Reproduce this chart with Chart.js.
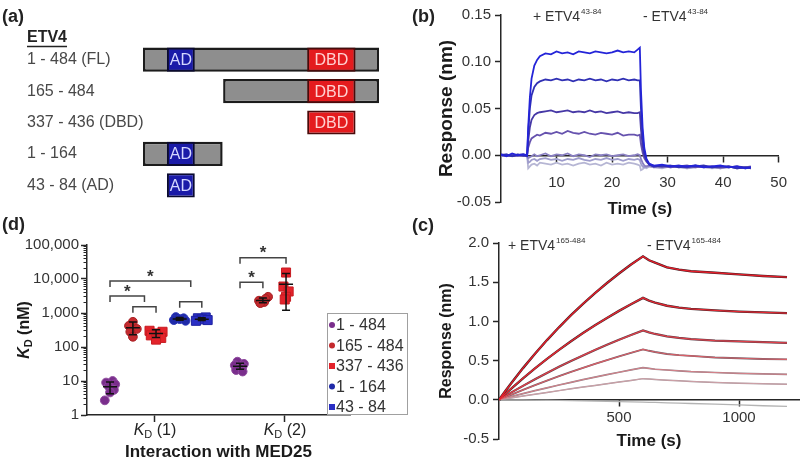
<!DOCTYPE html>
<html><head><meta charset="utf-8">
<script src="https://cdn.jsdelivr.net/npm/chart.js@4.4.1/dist/chart.umd.min.js"></script>
<style>
html,body{margin:0;padding:0;background:#fff;}
#wrap{position:relative;width:800px;height:466px;overflow:hidden;background:#fff;font-family:"Liberation Sans",Arial,sans-serif;}
canvas{position:absolute;}
.pl{position:absolute;font-weight:bold;font-size:18px;color:#222;line-height:22px;}
</style></head><body>
<div id="wrap">
<canvas id="cA" width="400" height="228" style="left:0px;top:0px"></canvas>
<canvas id="cB" width="400" height="230" style="left:400px;top:0px"></canvas>
<canvas id="cD" width="412" height="236" style="left:0px;top:230px"></canvas>
<canvas id="cC" width="400" height="236" style="left:400px;top:230px"></canvas>
<div class="pl" style="left:2px;top:5px">(a)</div>
<div class="pl" style="left:412px;top:5px">(b)</div>
<div class="pl" style="left:412px;top:214px">(c)</div>
<div class="pl" style="left:2px;top:213px">(d)</div>
</div>
<script>
// ---------------- DATA ----------------
// (a) domain map
const constructLabels = ['1 - 484 (FL)', '165 - 484', '337 - 436 (DBD)', '1 - 164', '43 - 84 (AD)'];
const constructRanges = [[1,484],[165,484],null,[1,164],null];
const adRanges = [[50,107],null,null,[50,107],[50,107]];
const dbdRanges = [[337,436],[337,436],[337,436],null,null];

// (b) ETV4 43-84 sensorgram
const tB = [0,1,2,3,4,4.7,4.9,5.2,5.5,6,6.5,7,8,9,10,11,12,13,14,15,16,17,18,19,20,21,22,23,24,24.6,25,25.2,25.5,25.8,26.2,26.7,27.5,29,30.5,32,33.5,35,36.5,38,39.5,41,42.5,44,45];
const b1 = [0.001,-0.001,0.002,0.000,0.001,0.000, 0.030,0.062,0.082,0.096,0.102,0.106, 0.109,0.108,0.111,0.109,0.110,0.108,0.111,0.110,0.109,0.111,0.110,0.109,0.110,0.112,0.110,0.111,0.110,0.113, 0.115, 0.070,0.030,0.008,-0.004,-0.009, -0.011,-0.010,-0.012,-0.011,-0.012,-0.011,-0.013,-0.012,-0.011,-0.013,-0.012,-0.014,-0.013];
const b2 = [0.000,0.001,-0.001,0.001,0.000,-0.001, 0.025,0.050,0.064,0.073,0.077,0.079, 0.081,0.080,0.082,0.080,0.081,0.079,0.081,0.080,0.082,0.080,0.081,0.079,0.081,0.080,0.082,0.080,0.081,0.080, 0.080, 0.050,0.020,0.004,-0.005,-0.010, -0.012,-0.011,-0.011,-0.013,-0.012,-0.012,-0.011,-0.013,-0.012,-0.012,-0.014,-0.013,-0.013];
const b3 = [0.001,0.000,-0.001,0.000,0.001,0.000, 0.015,0.030,0.038,0.043,0.045,0.046, 0.047,0.048,0.046,0.047,0.048,0.046,0.047,0.046,0.048,0.046,0.047,0.045,0.046,0.047,0.045,0.046,0.045,0.045, 0.046, 0.028,0.010,0.000,-0.006,-0.010, -0.011,-0.012,-0.011,-0.012,-0.013,-0.011,-0.012,-0.013,-0.012,-0.013,-0.012,-0.013,-0.014];
const b4 = [0.000,-0.001,0.001,0.000,-0.001,0.000, 0.008,0.014,0.018,0.020,0.022,0.021, 0.024,0.023,0.025,0.023,0.026,0.024,0.023,0.025,0.023,0.022,0.024,0.023,0.022,0.024,0.021,0.022,0.022,0.021, 0.022, 0.012,0.003,-0.003,-0.007,-0.010, -0.012,-0.011,-0.013,-0.012,-0.011,-0.013,-0.012,-0.012,-0.013,-0.012,-0.014,-0.013,-0.012];
const b5 = [0.000,0.001,-0.001,0.000,0.001,-0.001, -0.003,-0.002,-0.001,0.001,-0.001,0.000, 0.002,-0.001,0.001,0.000,0.002,-0.001,0.001,0.000,-0.002,0.001,0.000,0.001,-0.001,0.000,0.001,-0.001,0.000,0.001, 0.000, -0.004,-0.008,-0.011,-0.012,-0.011, -0.012,-0.013,-0.012,-0.011,-0.013,-0.012,-0.013,-0.012,-0.014,-0.012,-0.013,-0.014,-0.013];
const b6 = [-0.001,0.000,0.001,-0.001,0.000,0.000, -0.008,-0.007,-0.005,-0.004,-0.006,-0.004, -0.003,-0.005,-0.004,-0.006,-0.004,-0.005,-0.003,-0.005,-0.006,-0.004,-0.005,-0.003,-0.005,-0.004,-0.006,-0.004,-0.005,-0.004, -0.005, -0.009,-0.012,-0.013,-0.012,-0.012, -0.013,-0.012,-0.013,-0.012,-0.014,-0.013,-0.012,-0.013,-0.014,-0.013,-0.012,-0.014,-0.013];
const b7 = [0.000,-0.001,0.000,0.001,-0.001,0.000, -0.014,-0.012,-0.010,-0.009,-0.011,-0.008, -0.009,-0.010,-0.008,-0.010,-0.009,-0.011,-0.009,-0.008,-0.010,-0.009,-0.011,-0.008,-0.010,-0.009,-0.010,-0.008,-0.009,-0.010, -0.011, -0.016,-0.015,-0.013,-0.014,-0.012, -0.013,-0.014,-0.012,-0.013,-0.014,-0.012,-0.013,-0.014,-0.013,-0.012,-0.014,-0.013,-0.014];
const bXTicks = [10,20,30,40,50];
const bYTicks = [-0.05,0,0.05,0.10,0.15];

// (c) ETV4 165-484 sensorgram (data + fit)
const tC = [0,25,50,100,150,200,250,300,350,400,450,500,550,600,625,650,700,750,800,900,1000,1100,1200];
const c1 = [0,0.106,0.207,0.404,0.588,0.762,0.925,1.079,1.224,1.361,1.490,1.611,1.725,1.830,1.780,1.750,1.690,1.660,1.640,1.620,1.600,1.580,1.565];
const c2 = [0,0.071,0.140,0.274,0.401,0.522,0.637,0.747,0.851,0.950,1.044,1.134,1.219,1.300,1.265,1.240,1.200,1.175,1.160,1.140,1.125,1.115,1.105];
const c3 = [0,0.045,0.091,0.178,0.262,0.343,0.421,0.495,0.566,0.636,0.702,0.765,0.826,0.885,0.860,0.840,0.810,0.790,0.775,0.755,0.745,0.735,0.725];
const c4 = [0,0.032,0.064,0.126,0.187,0.245,0.301,0.355,0.407,0.458,0.506,0.553,0.599,0.643,0.625,0.610,0.585,0.570,0.560,0.540,0.530,0.520,0.515];
const c5 = [0,0.020,0.040,0.079,0.117,0.153,0.189,0.223,0.257,0.289,0.321,0.351,0.381,0.410,0.400,0.390,0.380,0.370,0.360,0.348,0.338,0.330,0.325];
const c6 = [0,0.012,0.024,0.048,0.071,0.094,0.117,0.140,0.162,0.183,0.205,0.226,0.247,0.270,0.265,0.260,0.250,0.242,0.235,0.222,0.212,0.205,0.198];
const c7 = [0,0,-0.001,-0.002,-0.004,-0.006,-0.008,-0.010,-0.013,-0.016,-0.020,-0.024,-0.027,-0.030,-0.032,-0.034,-0.038,-0.042,-0.047,-0.056,-0.066,-0.076,-0.085];
const cXTicks = [500,1000];
const cYTicks = [-0.5,0,0.5,1.0,1.5,2.0];

// (d) KD dot plot
const dSeriesLabels = ['1 - 484','165 - 484','337 - 436','1 - 164','43 - 84'];
const kd1Values = [[10,9,8,7,5.5,4.6,2.7],[550,420,340,280,200],[300,280,250,220,185,165],[760,700,660,620,590],[740,700,650,620,590]];
const kd2Values = [[37,32,29,27,24,21,19],[3000,2600,2300,2100,1950],[15500,6000,4300,3000,2500],[],[]];
const kd1Jitter = [[0.02,-0.03,0.04,-0.01,0.03,0,-0.04],[0,-0.03,0.03,-0.02,0],[-0.05,0.05,0,-0.04,0.04,0],[-0.03,0.03,0,-0.045,0.045],[0.03,-0.03,0,0.045,-0.045]];
const kd2Jitter = [[-0.02,0.03,-0.04,0.02,0,-0.03,0.02],[0.04,0.02,-0.03,0.01,-0.02],[0,-0.02,0.02,0,-0.01],[],[]];
const kd1Mean = [6.8,370,250,670,660], kd1Low = [4.2,230,190,610,600], kd1High = [9.4,540,320,740,725];
const kd2Mean = [27,2350,7000,null,null], kd2Low = [22,2000,1200,null,null], kd2High = [33,2750,14500,null,null];
const dGroups = [1,2];
const dGroupNames = ['(1)','(2)'];
const dYTicks = [1,10,100,1000,10000,100000];
const dMinorTicks = [2,3,4,5,6,7,8,9,20,30,40,50,60,70,80,90,200,300,400,500,600,700,800,900,2000,3000,4000,5000,6000,7000,8000,9000,20000,30000,40000,50000,60000,70000,80000,90000];
// significance brackets: group, from series, to series (or midpoint of pair), level (nM), star
const brackets = [
  {g:1, a:0, b:[1,2], y:3160, star:true},
  {g:1, a:1, b:[2], y:1530, star:false},
  {g:1, a:0, b:[3,4], y:8700, star:true},
  {g:1, a:3, b:[4], y:2150, star:false},
  {g:2, a:0, b:[1], y:7980, star:true},
  {g:2, a:0, b:[2], y:42000, star:true}
];

// ---------------- STYLE ----------------
const FONT = '"Liberation Sans", Arial, Helvetica, sans-serif';
Chart.defaults.font.family = FONT;
Chart.defaults.color = '#333';
Chart.defaults.animation = false;
Chart.defaults.events = [];
Chart.defaults.plugins.legend.display = false;
Chart.defaults.plugins.tooltip.enabled = false;
const AX = '#262626';

function drawSup(ctx, x, y, base, sup) {
  ctx.save();
  ctx.fillStyle = '#333'; ctx.textBaseline = 'middle'; ctx.textAlign = 'left';
  ctx.font = '14px ' + FONT;
  ctx.fillText(base, x, y);
  const w = ctx.measureText(base).width;
  ctx.font = '8px ' + FONT;
  ctx.fillText(sup, x + w + 1, y - 5);
  ctx.restore();
}

// ---------------- (a) ----------------
const aPlugin = {
  id: 'aText',
  afterDatasetsDraw(chart) {
    const ctx = chart.ctx;
    ctx.save();
    ctx.textAlign = 'center'; ctx.textBaseline = 'middle'; ctx.font = '16px ' + FONT;
    [[0, '#d4d6ff'], [1, '#ffd2d2']].forEach(([di, col]) => {
      const ds = chart.data.datasets[di];
      chart.getDatasetMeta(di).data.forEach((el, j) => {
        if (!ds.data[j]) return;
        ctx.fillStyle = col;
        ctx.fillText(ds.label, (el.x + el.base) / 2, el.y + 1);
      });
    });
    ctx.textAlign = 'left'; ctx.font = 'bold 16px ' + FONT; ctx.fillStyle = '#222';
    ctx.fillText('ETV4', 27, 38);
    const w = ctx.measureText('ETV4').width;
    ctx.strokeStyle = '#222'; ctx.lineWidth = 1.5;
    ctx.beginPath(); ctx.moveTo(27, 46.5); ctx.lineTo(27 + w, 46.5); ctx.stroke();
    ctx.restore();
  }
};
new Chart(document.getElementById('cA'), {
  type: 'bar',
  data: {
    labels: constructLabels,
    datasets: [
      {label: 'AD', data: adRanges, backgroundColor: '#1a1aa8', borderColor: '#0a0a30', borderWidth: 2, borderSkipped: false, grouped: false, order: 1},
      {label: 'DBD', data: dbdRanges, backgroundColor: '#e41b1e', borderColor: '#4a0a0a', borderWidth: 2, borderSkipped: false, grouped: false, order: 1},
      {label: 'ETV4', data: constructRanges, backgroundColor: '#8e8e8e', borderColor: '#1c1c1c', borderWidth: 2.5, borderSkipped: false, grouped: false, order: 2}
    ]
  },
  options: {
    indexAxis: 'y', responsive: false, devicePixelRatio: 1,
    layout: {padding: {left: 27, right: 21, top: 44, bottom: 27}},
    datasets: {bar: {categoryPercentage: 1, barPercentage: 0.77}},
    scales: {
      x: {type: 'linear', min: 1, max: 484, display: false},
      y: {grid: {display: false}, border: {display: false},
          ticks: {crossAlign: 'far', font: {size: 16}, color: '#484848', padding: 0},
          afterFit: s => { s.width = 116; }}
    }
  },
  plugins: [aPlugin]
});

// ---------------- (b) ----------------
const bCurves = [b1, b2, b3, b4, b5, b6, b7];
const bColors = ['#2424d8', '#3030b4', '#4638a6', '#6652ae', '#8a80c2', '#9e9ccc', '#b6b6d4'];
new Chart(document.getElementById('cB'), {
  type: 'line',
  data: {datasets: bCurves.map((c, i) => ({
    data: tB.map((t, j) => ({x: t, y: c[j]})),
    borderColor: bColors[i], borderWidth: 1.8, pointRadius: 0, tension: 0, fill: false
  }))},
  options: {
    responsive: false, devicePixelRatio: 1,
    layout: {padding: {left: 0, right: 12, top: 15, bottom: 28}},
    scales: {
      x: {type: 'linear', min: 0, max: 50, position: {y: 0},
        afterBuildTicks: s => { s.ticks = bXTicks.map(v => ({value: v})); },
        afterFit: s => { s.height = 0; },
        ticks: {font: {size: 15}, color: '#333', padding: 13, maxRotation: 0, callback: v => String(v)},
        grid: {drawOnChartArea: false, tickLength: 6, tickWidth: 1.5, color: AX},
        border: {color: AX, width: 1.5},
        title: {display: true, text: 'Time (s)', font: {size: 17, weight: 'bold'}, color: '#1a1a1a', padding: {top: 0, bottom: -64}}},
      y: {type: 'linear', min: -0.05, max: 0.15,
        afterBuildTicks: s => { s.ticks = bYTicks.map(v => ({value: v})); },
        afterFit: s => { s.width = 101; },
        ticks: {font: {size: 15}, color: '#333', padding: 4, callback: v => Number(v).toFixed(2)},
        grid: {drawOnChartArea: false, tickLength: 6, tickWidth: 1.5, color: AX},
        border: {color: AX, width: 1.5},
        title: {display: true, text: 'Response (nm)', font: {size: 19, weight: 'bold'}, color: '#1a1a1a', padding: {top: 35, bottom: 0}}}
    }
  },
  plugins: [{id: 'bText', afterDraw(chart) {
    drawSup(chart.ctx, 133, 17, '+ ETV4', '43-84');
    drawSup(chart.ctx, 243, 17, '- ETV4', '43-84');
  }}]
});

// ---------------- (c) ----------------
const cCurves = [c1, c2, c3, c4, c5, c6];
const cDataColors = ['#3a2226', '#3e282c', '#58404a', '#70606a', '#8e8088', '#a4989e'];
const cFitColors = ['#e61e2a', '#e42832', '#e0404a', '#da6068', '#d8828a', '#d4a2a8'];
const cFitWidths = [1.4, 1.4, 1.3, 1.1, 1.0, 0.9];
const cDataWidths = [2.4, 2.4, 2.2, 1.9, 1.7, 1.5];
const cDatasets = [];
cCurves.forEach((c, i) => cDatasets.push({data: tC.map((t, j) => ({x: t, y: c[j]})), borderColor: cFitColors[i], borderWidth: cFitWidths[i], pointRadius: 0, tension: 0, order: 1}));
cCurves.forEach((c, i) => cDatasets.push({data: tC.map((t, j) => ({x: t, y: c[j]})), borderColor: cDataColors[i], borderWidth: cDataWidths[i], pointRadius: 0, tension: 0, order: 2}));
cDatasets.push({data: tC.map((t, j) => ({x: t, y: c7[j]})), borderColor: '#b4b4b4', borderWidth: 1.3, pointRadius: 0, tension: 0, order: 3});
new Chart(document.getElementById('cC'), {
  type: 'line',
  data: {datasets: cDatasets},
  options: {
    responsive: false, devicePixelRatio: 1,
    layout: {padding: {left: 0, right: 1, top: 12, bottom: 27}},
    scales: {
      x: {type: 'linear', min: 0, max: 1250, position: {y: 0},
        afterBuildTicks: s => { s.ticks = cXTicks.map(v => ({value: v})); },
        afterFit: s => { s.height = 0; },
        ticks: {font: {size: 15}, color: '#333', padding: 3.5, maxRotation: 0, callback: v => String(v)},
        grid: {drawOnChartArea: false, tickLength: 6, tickWidth: 1.5, color: AX},
        border: {color: AX, width: 1.5},
        title: {display: true, text: 'Time (s)', font: {size: 17, weight: 'bold'}, color: '#1a1a1a', padding: {top: 0, bottom: -52}}},
      y: {type: 'linear', min: -0.5, max: 2.0,
        afterBuildTicks: s => { s.ticks = cYTicks.map(v => ({value: v})); },
        afterFit: s => { s.width = 99; },
        ticks: {font: {size: 15}, color: '#333', padding: 4, callback: v => Number(v).toFixed(1)},
        grid: {drawOnChartArea: false, tickLength: 6, tickWidth: 1.5, color: AX},
        border: {color: AX, width: 1.5},
        title: {display: true, text: 'Response (nm)', font: {size: 16, weight: 'bold'}, color: '#1a1a1a', padding: {top: 37, bottom: 0}}}
    }
  },
  plugins: [{id: 'cText', afterDraw(chart) {
    drawSup(chart.ctx, 108, 16, '+ ETV4', '165-484');
    drawSup(chart.ctx, 247, 16, '- ETV4', '165-484');
  }}]
});

// ---------------- (d) ----------------
const dOffsets = [-0.346, -0.17, 0.008, 0.19, 0.36];
const dColors = ['#7a2e8c', '#c42a2e', '#e3232b', '#1f2aa8', '#2a2fc4'];
const dBorders = ['#8e4a9e', '#a81e22', '#c81c22', '#2a36b8', '#1e22a0'];
const dStyles = ['circle', 'circle', 'rect', 'circle', 'rect'];
const dDatasets = dSeriesLabels.map((lab, s) => {
  const pts = [];
  kd1Values[s].forEach((v, j) => pts.push({x: dGroups[0] + dOffsets[s] + kd1Jitter[s][j], y: v}));
  kd2Values[s].forEach((v, j) => pts.push({x: dGroups[1] + dOffsets[s] + kd2Jitter[s][j], y: v}));
  return {label: lab, data: pts, backgroundColor: dColors[s], borderColor: dBorders[s], borderWidth: 1,
          pointStyle: dStyles[s], pointRadius: dStyles[s] === 'rect' ? 6.4 : 4.4};
});
const dPlugin = {
  id: 'dExtras',
  afterDatasetsDraw(chart) {
    const ctx = chart.ctx, xs = chart.scales.x, ys = chart.scales.y;
    ctx.save();
    ctx.strokeStyle = '#111'; ctx.lineWidth = 1.5;
    const stats = [[kd1Mean, kd1Low, kd1High], [kd2Mean, kd2Low, kd2High]];
    stats.forEach((st, gi) => {
      st[0].forEach((m, s) => {
        if (m == null) return;
        const x = xs.getPixelForValue(dGroups[gi] + dOffsets[s]);
        const ym = ys.getPixelForValue(m), yl = ys.getPixelForValue(st[1][s]), yh = ys.getPixelForValue(st[2][s]);
        ctx.beginPath();
        ctx.moveTo(x - 7, ym); ctx.lineTo(x + 7, ym);
        ctx.moveTo(x, yl); ctx.lineTo(x, yh);
        ctx.moveTo(x - 4, yl); ctx.lineTo(x + 4, yl);
        ctx.moveTo(x - 4, yh); ctx.lineTo(x + 4, yh);
        ctx.stroke();
      });
    });
    // brackets
    ctx.strokeStyle = '#444'; ctx.lineWidth = 1.5;
    brackets.forEach(b => {
      const x1 = xs.getPixelForValue(b.g + dOffsets[b.a]);
      const x2 = b.b.map(k => xs.getPixelForValue(b.g + dOffsets[k])).reduce((p, q) => p + q, 0) / b.b.length;
      const y = ys.getPixelForValue(b.y);
      ctx.beginPath();
      ctx.moveTo(x1, y + 6); ctx.lineTo(x1, y); ctx.lineTo(x2, y); ctx.lineTo(x2, y + 6);
      ctx.stroke();
      if (b.star) {
        ctx.fillStyle = '#333'; ctx.font = 'bold 17px ' + FONT; ctx.textAlign = 'center'; ctx.textBaseline = 'middle';
        ctx.fillText('*', (x1 + x2) / 2, y - 4);
      }
    });
    ctx.restore();
  },
  afterDraw(chart) {
    const ctx = chart.ctx, xs = chart.scales.x, ca = chart.chartArea;
    ctx.save();
    ctx.fillStyle = '#222'; ctx.textBaseline = 'middle'; ctx.textAlign = 'left';
    // x category labels K_D (1), K_D (2)
    dGroups.forEach((g, i) => {
      ctx.font = 'italic 16px ' + FONT; const wK = ctx.measureText('K').width;
      ctx.font = '11px ' + FONT; const wD = ctx.measureText('D').width;
      ctx.font = '16px ' + FONT; const wR = ctx.measureText(' ' + dGroupNames[i]).width;
      let x = xs.getPixelForValue(g) - (wK + wD + wR) / 2; const y = 201;
      ctx.font = 'italic 16px ' + FONT; ctx.fillText('K', x, y); x += wK;
      ctx.font = '11px ' + FONT; ctx.fillText('D', x, y + 4); x += wD;
      ctx.font = '16px ' + FONT; ctx.fillText(' ' + dGroupNames[i], x, y);
    });
    // y title K_D (nM)
    ctx.translate(25, (ca.top + ca.bottom) / 2); ctx.rotate(-Math.PI / 2);
    ctx.fillStyle = '#1a1a1a';
    ctx.font = 'italic bold 16px ' + FONT; const w1 = ctx.measureText('K').width;
    ctx.font = 'bold 11px ' + FONT; const w2 = ctx.measureText('D').width;
    ctx.font = 'bold 16px ' + FONT; const w3 = ctx.measureText(' (nM)').width;
    let x = -(w1 + w2 + w3) / 2;
    ctx.font = 'italic bold 16px ' + FONT; ctx.fillText('K', x, 0); x += w1;
    ctx.font = 'bold 11px ' + FONT; ctx.fillText('D', x, 4); x += w2;
    ctx.font = 'bold 16px ' + FONT; ctx.fillText(' (nM)', x, 0);
    ctx.setTransform(1, 0, 0, 1, 0, 0);
    // legend box
    ctx.strokeStyle = '#a0a0a0'; ctx.lineWidth = 1;
    ctx.strokeRect(327.5, 83.5, 80, 101);
    chart.data.datasets.forEach((ds, i) => {
      const y = 95 + i * 20.5;
      ctx.fillStyle = ds.backgroundColor;
      if (ds.pointStyle === 'rect') ctx.fillRect(329, y - 3, 6, 6);
      else { ctx.beginPath(); ctx.arc(332, y, 3, 0, Math.PI * 2); ctx.fill(); }
      ctx.fillStyle = '#333'; ctx.font = '16px ' + FONT; ctx.textAlign = 'left'; ctx.textBaseline = 'middle';
      ctx.fillText(ds.label, 336, y + 1);
    });
    ctx.restore();
  }
};
new Chart(document.getElementById('cD'), {
  type: 'scatter',
  data: {datasets: dDatasets},
  options: {
    responsive: false, devicePixelRatio: 1,
    layout: {padding: {left: 0, right: 62, top: 15, bottom: 0}},
    scales: {
      x: {type: 'linear', min: 0.477, max: 2.5, position: 'bottom',
        afterBuildTicks: s => { s.ticks = dGroups.map(v => ({value: v})); },
        afterFit: s => { s.height = 51; },
        ticks: {display: false},
        grid: {drawOnChartArea: false, tickLength: 7, tickWidth: 1.5, color: AX},
        border: {color: AX, width: 1.5},
        title: {display: true, text: 'Interaction with MED25', font: {size: 17, weight: 'bold'}, color: '#1a1a1a', padding: {top: 0, bottom: 3}}},
      y: {type: 'logarithmic', min: 1, max: 100000, position: 'left', weight: 1,
        afterBuildTicks: s => { s.ticks = dYTicks.map(v => ({value: v})); },
        afterFit: s => { s.width = 87; },
        ticks: {font: {size: 15}, color: '#333', padding: 2, callback: v => Number(v).toLocaleString('en-US')},
        grid: {drawOnChartArea: false, tickLength: 6, tickWidth: 1.5, color: AX},
        border: {color: AX, width: 1.5}},
      yMinor: {type: 'logarithmic', min: 1, max: 100000, position: 'left', weight: 0,
        afterBuildTicks: s => { s.ticks = dMinorTicks.map(v => ({value: v})); },
        afterFit: s => { s.width = 0; },
        ticks: {display: false},
        grid: {drawOnChartArea: false, tickLength: 3.5, tickWidth: 1, color: AX},
        border: {display: false}}
    }
  },
  plugins: [dPlugin]
});
</script>
</body></html>
